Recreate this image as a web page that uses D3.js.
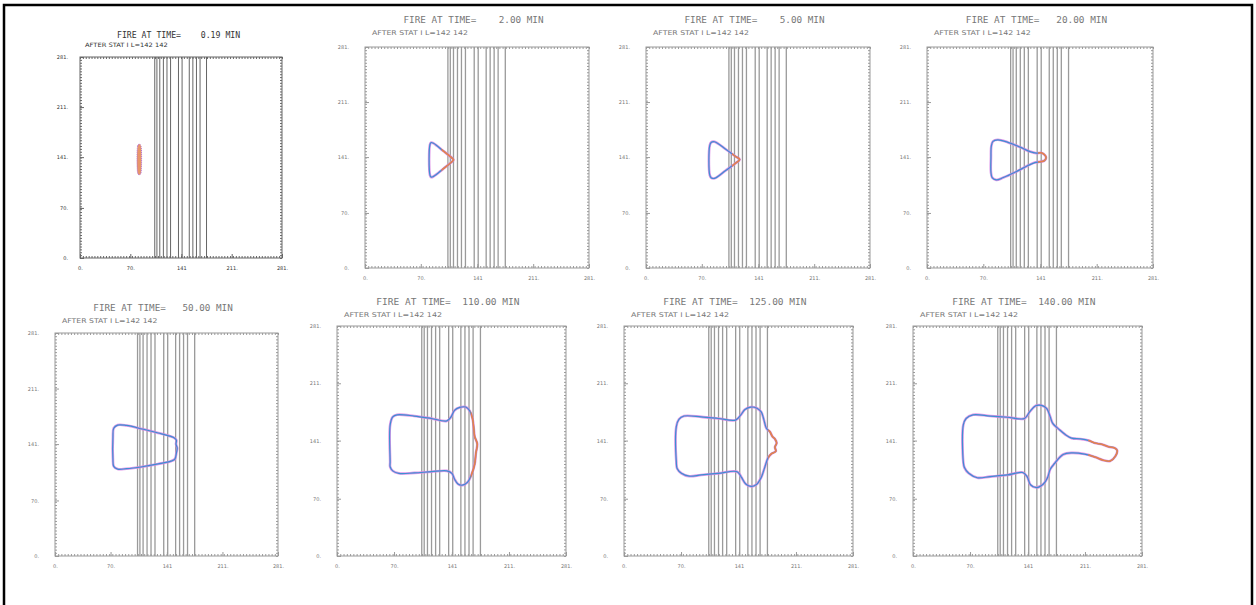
<!DOCTYPE html>
<html><head><meta charset="utf-8">
<script src="https://cdn.jsdelivr.net/npm/d3@7"></script>
<style>body{margin:0;background:#fff}svg{display:block}text{white-space:pre}</style>
</head><body><svg id="c" width="1256" height="605"></svg>
<script>
// ---------- data ----------
const times = [0.19, 2.00, 5.00, 20.00, 50.00, 110.00, 125.00, 140.00];
const subtitleText = "AFTER STAT I L=142 142";
const domainMax = 281;
const tickValues = [0, 70, 141, 211, 281];
const xTickLabels = ["0.", "70.", "141", "211.", "281."];
const yTickLabels = ["0.", "70.", "141.", "211.", "281."];
const fuelLinesX = [104, 107, 111, 116, 121, 126, 137, 142, 152, 157, 162, 167, 176];

const perim0 = [[80,120],[80,156],[81,158.5],[82.5,159.3],[84,158.5],[85,156],[85,120],[84,117],[82.5,116],[81,117]];
const perim1 = [[81.5,118],[81.5,157],[83,159.5],[86,158.5],[98,149],[110,139],[111,137.5],[110,136],[98,126],[86,116.5],[83,115.5]];
const perim2 = [[80,118],[80,156],[82,160],[86,160.5],[100,151],[112,142],[117.5,138],[112,133],[100,124],[86,114],[82,114.5]];
const perim3 = [[79.5,122],[79.5,140],[80,155],[82,161],[88,163],[100,160],[115,154],[128,148],[136,146],[142,146.5],[147,143],[148,140],[146,136.5],[140,135],[134,134],[125,130],[110,122],[95,115],[86,112],[81,115]];
const perim4 = [[73,122],[73,150],[74,161],[79,165],[90,164.5],[110,160],[130,155],[145,151],[150,149],[153,146],[152.5,141],[154,136],[153,130],[151,122],[146,119.5],[130,116],[110,112.5],[90,110],[79,109.5],[74,113]];
const perim5 = [[65.2,115],[65.2,160],[68.4,170],[73.7,172.5],[94.7,171],[115.8,168],[134.7,165],[140,170],[144.2,178],[150.5,181.5],[157.9,182],[163.1,177],[166.3,168],[167.9,155],[168.9,146],[172.1,137],[170.5,126],[168.9,112],[165.2,100],[160,90],[153.7,86.5],[148.4,88],[144.2,94],[141,101],[134.7,104],[115.8,103],[94.7,101.5],[75.8,101],[68.4,104],[65.2,109]];
const perim6 = [[64.2,115],[64.2,158],[67.4,167],[73.7,171],[94.7,170],[115.8,168],[136.8,166],[143.1,172],[148.4,179],[155.8,182],[163.1,180.5],[168.4,176],[171.5,167],[174.7,156],[178.9,152],[182.1,146],[185.2,143],[187.3,138],[185.2,133],[186.3,128],[181,125],[176.8,120],[172.6,108],[168.4,96],[162.1,87],[155.8,85],[149.4,88],[144.2,96],[138.9,103],[115.8,101],[94.7,99],[80,97.5],[70.5,101],[65.2,107]];
const perim7 = [[61.7,115],[61.7,160],[65.2,168],[73.7,172.5],[94.7,171],[115.8,169.5],[136.8,168],[143.1,176],[150.5,183.5],[157.9,184],[164.2,180],[168.4,170],[171.5,162],[178.9,155],[187.3,148],[194.7,144],[205.2,143],[215.7,141],[223.1,138],[231.5,136.5],[239.9,133.5],[247.3,132],[250.5,129],[248.4,122],[242,116],[233.6,117],[223.1,121],[210.5,124.5],[194.7,126],[184.2,124],[173.6,113],[168.4,106],[165.2,96],[160,88],[151.5,83.6],[144.2,87],[140,97],[134.7,102],[115.8,99],[94.7,97],[78.9,95.6],[68.4,101],[63.1,108]];
const perimeters = [perim0, perim1, perim2, perim3, perim4, perim5, perim6, perim7];
const headFromX = [null, 96, 108, 138, null, 164, 177, 215];

// ---------- layout ----------
const layout = [
  {x0:80,  x1:282,  y0:57,  y1:258, ty:38,  sy:47,  sharp:true},
  {x0:365, x1:589,  y0:47,  y1:268, ty:23,  sy:35},
  {x0:646, x1:870,  y0:47,  y1:268, ty:23,  sy:35},
  {x0:927, x1:1153, y0:47,  y1:268, ty:23,  sy:35},
  {x0:55,  x1:278,  y0:333, y1:556, ty:311, sy:323},
  {x0:337, x1:566,  y0:326, y1:556, ty:305, sy:317},
  {x0:624, x1:853,  y0:326, y1:556, ty:305, sy:317},
  {x0:913, x1:1142, y0:326, y1:556, ty:305, sy:317}
];

const svg = d3.select("#c");
svg.append("rect").attr("width",1256).attr("height",605).attr("fill","#fff");
svg.append("path").attr("d","M4,605V5H1252V605").attr("fill","none").attr("stroke","#000").attr("stroke-width",2.5);

const defs = svg.append("defs");
const minorTicks = d3.range(0, domainMax + 0.01, domainMax / 70);

layout.forEach((L, i) => {
  const g = svg.append("g");
  const w = L.x1 - L.x0;
  const x = d3.scaleLinear().domain([0, domainMax]).range([L.x0, L.x1]);
  const y = d3.scaleLinear().domain([0, domainMax]).range([L.y1, L.y0]);
  const ink = L.sharp ? "#333" : "#777";
  const lineInk = L.sharp ? "#666" : "#9a9a9a";

  // titles
  const title = "FIRE AT TIME=" + times[i].toFixed(2).padStart(8, " ") + " MIN";
  g.append("text").attr("x", L.x0 + (L.sharp ? 0.183 : 0.172) * w).attr("y", L.ty)
    .attr("textLength", (L.sharp ? 0.61 : 0.625) * w).attr("lengthAdjust", "spacingAndGlyphs")
    .attr("font-family", "DejaVu Sans Mono").attr("font-size", L.sharp ? 8 : 8.5)
    .attr("fill", ink).text(title);
  g.append("text").attr("x", L.x0 + (L.sharp ? 5 : 7)).attr("y", L.sy)
    .attr("textLength", (L.sharp ? 0.41 : 0.428) * w).attr("lengthAdjust", "spacingAndGlyphs")
    .attr("font-family", "DejaVu Sans").attr("font-size", L.sharp ? 6 : 6.5)
    .attr("fill", ink).text(subtitleText);

  // fuel boundary lines
  g.selectAll("line.fuel").data(fuelLinesX).join("line")
    .attr("x1", d => x(d)).attr("x2", d => x(d))
    .attr("y1", y(0)).attr("y2", y(domainMax))
    .attr("stroke", lineInk).attr("stroke-width", L.sharp ? 1 : 1.3);

  // box
  g.append("rect").attr("x", L.x0).attr("y", L.y0).attr("width", w).attr("height", L.y1 - L.y0)
    .attr("fill", "none").attr("stroke", lineInk).attr("stroke-width", 1);

  // minor ticks on all sides
  const tickStyle = sel => { sel.select(".domain").remove(); sel.selectAll("line").attr("stroke", lineInk); sel.selectAll("text").remove(); };
  g.append("g").attr("transform", `translate(0,${L.y1})`).call(d3.axisBottom(x).tickValues(minorTicks).tickSize(-2)).call(tickStyle);
  g.append("g").attr("transform", `translate(0,${L.y0})`).call(d3.axisTop(x).tickValues(minorTicks).tickSize(-2)).call(tickStyle);
  g.append("g").attr("transform", `translate(${L.x0},0)`).call(d3.axisLeft(y).tickValues(minorTicks).tickSize(-2)).call(tickStyle);
  g.append("g").attr("transform", `translate(${L.x1},0)`).call(d3.axisRight(y).tickValues(minorTicks).tickSize(-2)).call(tickStyle);

  // major ticks with labels
  const lab = sel => { sel.select(".domain").remove(); sel.selectAll("line").attr("stroke", lineInk);
    sel.selectAll("text").attr("font-family", "DejaVu Sans").attr("font-size", 5).attr("fill", ink); };
  g.append("g").attr("transform", `translate(0,${L.y1})`)
    .call(d3.axisBottom(x).tickValues(tickValues).tickFormat((d, k) => xTickLabels[k]).tickSize(-4).tickPadding(8)).call(lab);
  g.append("g").attr("transform", `translate(${L.x0},0)`)
    .call(d3.axisLeft(y).tickValues(tickValues).tickFormat((d, k) => yTickLabels[k]).tickSize(-4).tickPadding(L.sharp ? 12 : 16)).call(lab);

  // fire perimeter
  const line = d3.line().x(d => x(d[0])).y(d => y(d[1])).curve(d3.curveCatmullRomClosed.alpha(0.5));
  const pts = perimeters[i];
  if (i === 0) {
    g.append("path").attr("d", line(pts)).attr("fill", "#e8956a").attr("stroke", "#b070d8")
      .attr("stroke-width", 1).attr("stroke-dasharray", "1,1");
  } else {
    g.append("path").attr("d", line(pts)).attr("fill", "none").attr("stroke", "#d884e4").attr("stroke-width", 2.6).attr("opacity", 0.85);
    g.append("path").attr("d", line(pts)).attr("fill", "none").attr("stroke", "#3d8fd2").attr("stroke-width", 1.2);
    if (headFromX[i] !== null) {
      const id = "clip" + i;
      defs.append("clipPath").attr("id", id).append("rect")
        .attr("x", x(headFromX[i])).attr("y", L.y0).attr("width", L.x1 - x(headFromX[i])).attr("height", L.y1 - L.y0);
      g.append("path").attr("d", line(pts)).attr("fill", "none").attr("stroke", "#e8824a")
        .attr("stroke-width", 1.6).attr("clip-path", `url(#${id})`);
    }
  }
});
</script></body></html>
